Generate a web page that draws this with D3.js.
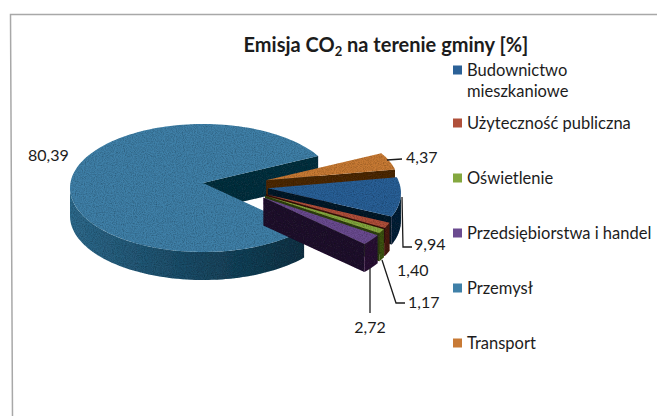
<!DOCTYPE html>
<html>
<head>
<meta charset="utf-8">
<script src="https://cdn.jsdelivr.net/npm/d3@7"></script>
<style>
  body { margin: 0; background: #fff; }
  text { font-family: Lato, "Open Sans", sans-serif; fill: #1c1c1c; }
</style>
</head>
<body>
<div id="chart"></div>
<script>
// Chart data
const categories = ["Budownictwo mieszkaniowe", "Użyteczność publiczna", "Oświetlenie", "Przedsiębiorstwa i handel", "Przemysł", "Transport"];
const values = [9.94, 1.40, 1.17, 2.72, 80.39, 4.37];
const valueLabels = ["9,94", "1,40", "1,17", "2,72", "80,39", "4,37"];
const topColors = ["#2b6197", "#b0503a", "#84a83f", "#6b4b90", "#3f80a8", "#c87a35"];
const sideColors = ["#0e2238", "#4a1c14", "#3d5218", "#2a1836", "url(#wall)", "#5e3412"];
const cutColors = ["#0a1a2c", "#3a150e", "#2f4012", "#22122e", "#10303f", "#4e2a0e"];

const width = 657, height = 416;
const cx = 203, cy = 188, rx = 133, ry = 64, depth = 28;
const apexLift = -5; // the tip sits a bit above the ellipse centre in the tilted view
const startDeg = 75.7;

const svg = d3.select("#chart").append("svg")
    .attr("width", width)
    .attr("height", height)
    .style("display", "block");

const defs = svg.append("defs");

// Wall shading of the big slice
const wall = defs.append("linearGradient").attr("id", "wall")
    .attr("x1", 0).attr("x2", 1).attr("y1", 0).attr("y2", 0);
wall.append("stop").attr("offset", 0).attr("stop-color", "#2f6a8c");
wall.append("stop").attr("offset", 0.45).attr("stop-color", "#1f4f6b");
wall.append("stop").attr("offset", 1).attr("stop-color", "#123345");

// Grain, the original is a scan
const grain = defs.append("filter").attr("id", "grain")
    .attr("x", 0).attr("y", 0).attr("width", 1).attr("height", 1);
grain.append("feTurbulence").attr("type", "fractalNoise").attr("baseFrequency", 0.9).attr("numOctaves", 2).attr("seed", 4).attr("result", "n");
grain.append("feColorMatrix").attr("in", "n").attr("type", "matrix")
    .attr("values", "0 0 0 0 0  0 0 0 0 0  0 0 0 0 0  0 0 0 0.9 -0.32").attr("result", "dark");
grain.append("feComposite").attr("in", "dark").attr("in2", "SourceAlpha").attr("operator", "in").attr("result", "clipped");
grain.append("feMerge").attr("result", "merged").selectAll("feMergeNode")
    .data(["SourceGraphic", "clipped"]).enter().append("feMergeNode").attr("in", d => d);
grain.append("feGaussianBlur").attr("in", "merged").attr("stdDeviation", 0.5);

// Frame, top and left edge only are in the picture
svg.append("path")
    .attr("d", d3.line()([[width, 14.5], [10.5, 14.5], [12.5, height]]))
    .attr("fill", "none")
    .attr("stroke", "#a8a8a8")
    .attr("stroke-width", 1.5);

// Title
const title = svg.append("text")
    .attr("x", 386).attr("y", 52)
    .attr("text-anchor", "middle")
    .attr("font-size", 20)
    .attr("font-weight", 700);
title.append("tspan").text("Emisja CO");
title.append("tspan").attr("font-size", 13).attr("dy", 4).text("2");
title.append("tspan").attr("dy", -4).text(" na terenie gminy [%]");

// Pie angles
const pie = d3.pie().sort(null)
    .startAngle(startDeg * Math.PI / 180)
    .endAngle(startDeg * Math.PI / 180 + 2 * Math.PI);
const slices = pie(values).map((s, i) => {
    const mid = (s.startAngle + s.endAngle) / 2;
    // Przemysl stays in place, the others are pulled out
    const pulled = i !== 4;
    return {
        ...s, i,
        ox: pulled ? 40 + 25 * Math.sin(mid) : 0,
        oy: pulled ? 4 - 18 * Math.cos(mid) : 0
    };
});

const px = a => rx * Math.sin(a);
const py = a => -ry * Math.cos(a);
const line = d3.line();

function anglesBetween(a0, a1) {
    const n = Math.max(2, Math.ceil((a1 - a0) * 30));
    return d3.range(0, n + 1).map(k => a0 + (a1 - a0) * k / n);
}

function wallPoints(a0, a1) {
    const pts = anglesBetween(a0, a1);
    const upper = pts.map(a => [px(a), py(a)]);
    const lower = pts.slice().reverse().map(a => [px(a), py(a) + depth]);
    return upper.concat(lower);
}

// Draw back to front: Przemysl, Transport, then the rest in order
const drawOrder = [4, 5, 0, 1, 2, 3];
const pieG = svg.append("g").attr("filter", "url(#grain)");

drawOrder.forEach(i => {
    const s = slices[i];
    const g = pieG.append("g")
        .attr("transform", "translate(" + (cx + s.ox) + "," + (cy + s.oy) + ")");

    // Cut face at the clockwise end, seen when it turns towards the viewer
    if (Math.sin(s.endAngle) > 0) {
        g.append("path")
            .attr("d", line([[0, apexLift], [px(s.endAngle), py(s.endAngle)], [px(s.endAngle), py(s.endAngle) + depth], [0, apexLift + depth]]) + "Z")
            .attr("fill", cutColors[i]);
    }
    // Outer wall, front half only
    [0, 2 * Math.PI].forEach(turn => {
        const a0 = Math.max(s.startAngle, Math.PI / 2 + turn);
        const a1 = Math.min(s.endAngle, 3 * Math.PI / 2 + turn);
        if (a1 > a0) {
            g.append("path")
                .attr("d", line(wallPoints(a0, a1)) + "Z")
                .attr("fill", sideColors[i]);
        }
    });
    // Top face
    g.append("path")
        .attr("d", line([[0, apexLift]].concat(anglesBetween(s.startAngle, s.endAngle).map(a => [px(a), py(a)]))) + "Z")
        .attr("fill", topColors[i]);
});

// Value labels and leaders
const labelLayout = [
    { x: 414, y: 250, anchor: "start", leader: [[402, 197], [403, 247], [412, 247]] },
    { x: 397, y: 276, anchor: "start", leader: null },
    { x: 408, y: 308, anchor: "start", leader: [[382, 260], [396, 303], [405, 303]] },
    { x: 370, y: 333, anchor: "middle", leader: [[370, 268], [370, 313]] },
    { x: 28, y: 161, anchor: "start", leader: null },
    { x: 406, y: 163, anchor: "start", leader: [[387, 160], [402, 159]] }
];
labelLayout.forEach((l, i) => {
    if (l.leader) {
        svg.append("path")
            .attr("d", line(l.leader))
            .attr("fill", "none")
            .attr("stroke", "#1c1c1c")
            .attr("stroke-width", 1.3);
    }
    svg.append("text")
        .attr("x", l.x).attr("y", l.y)
        .attr("text-anchor", l.anchor)
        .attr("font-size", 16)
        .text(valueLabels[i]);
});

// Legend
const legendY = d3.scaleLinear().domain([1, 5]).range([123, 343]);
const legend = svg.selectAll(".legend")
    .data(categories)
    .enter().append("g")
    .attr("class", "legend")
    .attr("transform", (d, i) => "translate(453," + (i === 0 ? 70 : legendY(i)) + ")");
legend.append("rect")
    .attr("x", 0).attr("y", -4.5)
    .attr("width", 9).attr("height", 9)
    .attr("fill", (d, i) => topColors[i]);
legend.append("text")
    .attr("x", 14).attr("y", 6)
    .attr("font-size", 16.5)
    .text((d, i) => i === 0 ? "Budownictwo" : d);
svg.append("text")
    .attr("x", 467).attr("y", 97)
    .attr("font-size", 16.5)
    .text("mieszkaniowe");
</script>
</body>
</html>
